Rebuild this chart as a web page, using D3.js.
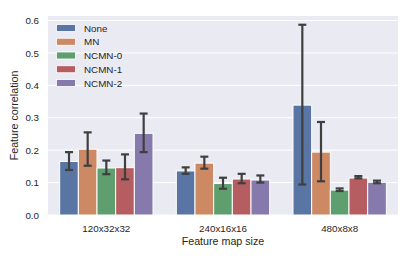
<html>
<head>
	<meta charset="utf-8">
	<script src="https://d3js.org/d3.v7.min.js"></script>
	<style>
		body { margin: 0; background: white; }
		text { font-family: "Liberation Sans", Arial, sans-serif; fill: #262626; }
	</style>
</head>
<body>
	<div id="output"></div>
	<script>
		// data
		var categories = ["120x32x32", "240x16x16", "480x8x8"];
		var series = ["None", "MN", "NCMN-0", "NCMN-1", "NCMN-2"];
		var palette = ["#4C72B0", "#DD8452", "#55A868", "#C44E52", "#8172B3"];
		// mean per series, one value per category
		var means = [
			[0.165, 0.136, 0.339],
			[0.203, 0.160, 0.194],
			[0.145, 0.097, 0.077],
			[0.146, 0.111, 0.114],
			[0.252, 0.108, 0.101]
		];
		var errLow = [
			[0.139, 0.127, 0.094],
			[0.152, 0.143, 0.104],
			[0.126, 0.081, 0.074],
			[0.110, 0.098, 0.113],
			[0.194, 0.100, 0.098]
		];
		var errHigh = [
			[0.194, 0.147, 0.587],
			[0.255, 0.180, 0.287],
			[0.168, 0.115, 0.082],
			[0.187, 0.127, 0.120],
			[0.313, 0.122, 0.106]
		];
		var yTicks = [0.0, 0.1, 0.2, 0.3, 0.4, 0.5, 0.6];

		// bars are drawn a bit desaturated, like seaborn does
		var colors = palette.map(function(c) {
			var h = d3.hsl(c);
			h.s = h.s * 0.75;
			return h.formatHex();
		});

		var W = 415, H = 258;
		// plot box (top is a reserved window name, so prefix everything)
		var pLeft = 48, pRight = 398, pTop = 16, pBottom = 215;

		var svg = d3.select("#output")
			.append("svg")
			.attr("width", W)
			.attr("height", H);

		var x0 = d3.scaleBand()
			.domain(categories)
			.range([pLeft, pRight])
			.paddingInner(0.2)
			.paddingOuter(0.1);
		var x1 = d3.scaleBand()
			.domain(series)
			.range([0, x0.bandwidth()]);
		var y = d3.scaleLinear()
			.domain([0, 0.614])
			.range([pBottom, pTop]);

		// background
		svg.append("rect")
			.attr("x", pLeft)
			.attr("y", pTop)
			.attr("width", pRight - pLeft)
			.attr("height", pBottom - pTop)
			.attr("fill", "#EAEAF2");

		// grid
		svg.selectAll("line.grid")
			.data(yTicks)
			.enter().append("line")
			.attr("class", "grid")
			.attr("x1", pLeft)
			.attr("x2", pRight)
			.attr("y1", d => y(d))
			.attr("y2", d => y(d))
			.attr("stroke", "white")
			.attr("stroke-width", 1);

		// y axis
		var yAxis = svg.append("g")
			.attr("transform", "translate(" + pLeft + ",0)")
			.call(d3.axisLeft(y).tickValues(yTicks).tickFormat(d3.format(".1f")).tickSize(0).tickPadding(9));
		yAxis.select(".domain").remove();
		yAxis.selectAll("text")
			.style("font-size", "9.8px")
			.style("font-family", "'Liberation Sans', Arial, sans-serif")
			.attr("fill", "#262626");

		// x axis
		var xAxis = svg.append("g")
			.attr("transform", "translate(0," + pBottom + ")")
			.call(d3.axisBottom(x0).tickSize(0).tickPadding(10));
		xAxis.select(".domain").remove();
		xAxis.selectAll("text")
			.style("font-size", "9.8px")
			.style("font-family", "'Liberation Sans', Arial, sans-serif")
			.attr("fill", "#262626");

		// bars
		series.forEach(function(s, si) {
			var g = svg.append("g");
			g.selectAll("rect")
				.data(categories)
				.enter().append("rect")
				.attr("x", c => x0(c) + x1(s))
				.attr("y", (c, ci) => y(means[si][ci]))
				.attr("width", x1.bandwidth())
				.attr("height", (c, ci) => y(0) - y(means[si][ci]))
				.attr("fill", colors[si])
				.attr("stroke", "white")
				.attr("stroke-width", 1);
		});

		// error bars
		var capW = 4;
		series.forEach(function(s, si) {
			categories.forEach(function(c, ci) {
				var cx = x0(c) + x1(s) + x1.bandwidth() / 2;
				var lo = y(errLow[si][ci]), hi = y(errHigh[si][ci]);
				var g = svg.append("g")
					.attr("stroke", "#3f3f3f")
					.attr("stroke-width", 2.2);
				g.append("line").attr("x1", cx).attr("x2", cx).attr("y1", lo).attr("y2", hi);
				g.append("line").attr("x1", cx - capW).attr("x2", cx + capW).attr("y1", lo).attr("y2", lo);
				g.append("line").attr("x1", cx - capW).attr("x2", cx + capW).attr("y1", hi).attr("y2", hi);
			});
		});

		// legend
		var legend = svg.append("g");
		series.forEach(function(s, si) {
			var ly = 28 + si * 13.75;
			legend.append("rect")
				.attr("x", 56.5)
				.attr("y", ly - 3.5)
				.attr("width", 19)
				.attr("height", 7)
				.attr("fill", colors[si])
				.attr("stroke", "white")
				.attr("stroke-width", 0.8);
			legend.append("text")
				.attr("x", 84)
				.attr("y", ly + 3.5)
				.style("font-size", "9.8px")
				.text(s);
		});

		// axis labels
		svg.append("text")
			.attr("x", (pLeft + pRight) / 2)
			.attr("y", 245)
			.style("font-size", "10.7px")
			.style("text-anchor", "middle")
			.text("Feature map size");
		svg.append("text")
			.attr("transform", "translate(18," + ((pTop + pBottom) / 2) + ") rotate(-90)")
			.style("font-size", "10.7px")
			.style("text-anchor", "middle")
			.text("Feature correlation");
	</script>
</body>
</html>
